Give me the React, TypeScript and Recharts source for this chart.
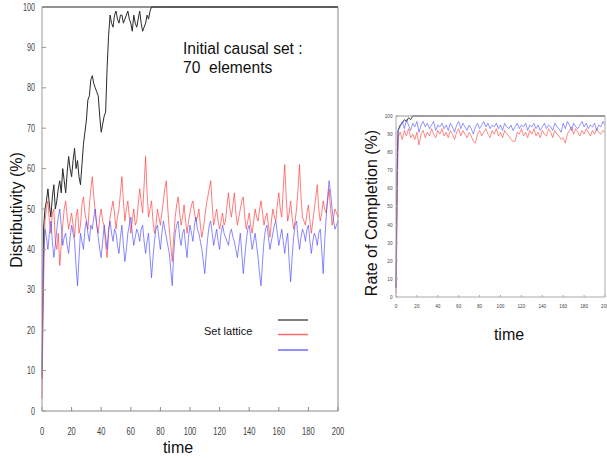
import React from "react";
import { LineChart, Line, XAxis, YAxis } from "recharts";

// left panel: one sample per time unit
const distTime = [
  0, 1, 2, 3, 4, 5, 6, 7, 8, 9, 10, 11, 12, 13, 14, 15, 16, 17, 18, 19,
  20, 21, 22, 23, 24, 25, 26, 27, 28, 29, 30, 31, 32, 33, 34, 35, 36, 37, 38, 39,
  40, 41, 42, 43, 44, 45, 46, 47, 48, 49, 50, 51, 52, 53, 54, 55, 56, 57, 58, 59,
  60, 61, 62, 63, 64, 65, 66, 67, 68, 69, 70, 71, 72, 73, 74, 75, 76, 77, 78, 79,
  80, 81, 82, 83, 84, 85, 86, 87, 88, 89, 90, 91, 92, 93, 94, 95, 96, 97, 98, 99,
  100, 101, 102, 103, 104, 105, 106, 107, 108, 109, 110, 111, 112, 113, 114, 115, 116, 117, 118, 119,
  120, 121, 122, 123, 124, 125, 126, 127, 128, 129, 130, 131, 132, 133, 134, 135, 136, 137, 138, 139,
  140, 141, 142, 143, 144, 145, 146, 147, 148, 149, 150, 151, 152, 153, 154, 155, 156, 157, 158, 159,
  160, 161, 162, 163, 164, 165, 166, 167, 168, 169, 170, 171, 172, 173, 174, 175, 176, 177, 178, 179,
  180, 181, 182, 183, 184, 185, 186, 187, 188, 189, 190, 191, 192, 193, 194, 195, 196, 197, 198, 199,
  200,
];

// right panel: coarser samples
const rateTime = [
  0, 1, 2, 4, 6, 8, 10, 12, 14, 16, 18, 20, 22, 24, 26, 28, 30, 32, 34, 36, 38, 40,
  42, 44, 46, 48, 50, 52, 54, 56, 58, 60, 62, 64, 66, 68, 70, 72, 74, 76, 78, 80,
  82, 84, 86, 88, 90, 92, 94, 96, 98, 100, 102, 104, 106, 108, 110, 112, 114, 116, 118, 120,
  122, 124, 126, 128, 130, 132, 134, 136, 138, 140, 142, 144, 146, 148, 150, 152, 154, 156, 158, 160,
  162, 164, 166, 168, 170, 172, 174, 176, 178, 180, 182, 184, 186, 188, 190, 192, 194, 196, 198, 200,
];

const xTicks = [0, 20, 40, 60, 80, 100, 120, 140, 160, 180, 200];
const yTicks = [0, 10, 20, 30, 40, 50, 60, 70, 80, 90, 100];

// Distributivity (%)
const distBlack = [
  8, 45, 50, 52, 55, 51, 48, 53, 56, 50,
  52, 55, 57, 54, 60, 57, 54, 59, 63, 60,
  58, 62, 65, 60, 62, 58, 56, 61, 66, 69,
  72, 77, 78, 82, 83, 81, 80, 79, 78, 73,
  69, 71, 73, 74, 85, 93, 98, 96, 95, 98,
  99, 97, 96, 98, 98, 96, 97, 98, 99, 97,
  96, 94, 98, 96, 95, 97, 99, 96, 94, 95,
  96, 98, 97, 99, 100, 100, 100, 100, 100, 100,
  100, 100, 100, 100, 100, 100, 100, 100, 100, 100,
  100, 100, 100, 100, 100, 100, 100, 100, 100, 100,
  100, 100, 100, 100, 100, 100, 100, 100, 100, 100,
  100, 100, 100, 100, 100, 100, 100, 100, 100, 100,
  100, 100, 100, 100, 100, 100, 100, 100, 100, 100,
  100, 100, 100, 100, 100, 100, 100, 100, 100, 100,
  100, 100, 100, 100, 100, 100, 100, 100, 100, 100,
  100, 100, 100, 100, 100, 100, 100, 100, 100, 100,
  100, 100, 100, 100, 100, 100, 100, 100, 100, 100,
  100, 100, 100, 100, 100, 100, 100, 100, 100, 100,
  100, 100, 100, 100, 100, 100, 100, 100, 100, 100,
  100, 100, 100, 100, 100, 100, 100, 100, 100, 100,
  100,
];
const distRed = [
  3, 30, 47, 50, 52, 47, 44, 49, 50, 42,
  40, 44, 36, 41, 46, 50, 52, 48, 45, 47,
  49, 46, 43, 48, 50, 44, 46, 51, 53, 49,
  47, 45, 51, 55, 58, 53, 49, 46, 44, 48,
  50, 47, 46, 41, 38, 44, 48, 50, 52, 49,
  45, 48, 50, 54, 58, 52, 47, 50, 52, 48,
  44, 47, 50, 46, 47, 51, 55, 52, 49, 56,
  63, 54, 48, 50, 52, 47, 44, 46, 50, 48,
  46, 49, 52, 55, 57, 50, 45, 41, 37, 43,
  48, 51, 53, 49, 46, 48, 51, 47, 44, 47,
  49, 51, 52, 49, 47, 48, 50, 46, 43, 45,
  48, 51, 53, 55, 57, 51, 46, 48, 50, 47,
  45, 47, 49, 46, 47, 51, 54, 50, 48, 51,
  54, 49, 46, 48, 50, 52, 53, 48, 45, 47,
  49, 46, 44, 47, 50, 48, 47, 50, 52, 49,
  46, 48, 49, 46, 43, 47, 50, 48, 47, 51,
  54, 50, 48, 55, 61, 53, 47, 49, 52, 48,
  45, 47, 50, 55, 61, 53, 48, 47, 46, 49,
  51, 47, 44, 47, 50, 53, 56, 50, 47, 49,
  52, 50, 49, 52, 55, 50, 46, 48, 50, 49,
  48,
];
const distBlue = [
  10, 38, 45, 43, 40, 44, 47, 42, 38, 41,
  45, 48, 50, 46, 41, 43, 44, 41, 39, 43,
  46, 44, 42, 36, 31, 38, 44, 42, 40, 45,
  47, 44, 42, 46, 45, 48, 50, 46, 43, 40,
  38, 42, 46, 43, 40, 45, 47, 44, 42, 45,
  44, 41, 39, 43, 46, 41, 37, 40, 44, 46,
  48, 44, 41, 43, 45, 44, 42, 45, 46, 42,
  39, 42, 44, 38, 33, 38, 42, 45, 46, 43,
  40, 44, 47, 45, 43, 41, 39, 35, 31, 39,
  44, 46, 47, 43, 41, 44, 45, 41, 38, 43,
  46, 44, 42, 46, 48, 45, 44, 42, 40, 37,
  34, 39, 43, 46, 47, 44, 41, 43, 45, 42,
  40, 44, 46, 44, 43, 42, 41, 44, 45, 43,
  42, 40, 38, 41, 44, 39, 34, 38, 42, 45,
  46, 43, 40, 42, 44, 41, 38, 34, 31, 37,
  42, 45, 46, 43, 40, 42, 44, 46, 47, 44,
  41, 43, 45, 42, 39, 42, 44, 37, 32, 38,
  43, 46, 47, 43, 40, 43, 45, 44, 42, 45,
  46, 42, 39, 42, 44, 43, 41, 44, 45, 40,
  34, 42, 48, 53, 57, 54, 50, 47, 45, 46,
  47,
];

// Rate of Completion (%)
const rateBlack = [
  5, 70, 92,
  95, 96, 98, 97, 99, 98, 100, 100, 100,
  100, 100, 100, 100, 100, 100, 100, 100, 100, 100,
  100, 100, 100, 100, 100, 100, 100, 100, 100, 100,
  100, 100, 100, 100, 100, 100, 100, 100, 100, 100,
  100, 100, 100, 100, 100, 100, 100, 100, 100, 100,
  100, 100, 100, 100, 100, 100, 100, 100, 100, 100,
  100, 100, 100, 100, 100, 100, 100, 100, 100, 100,
  100, 100, 100, 100, 100, 100, 100, 100, 100, 100,
  100, 100, 100, 100, 100, 100, 100, 100, 100, 100,
  100, 100, 100, 100, 100, 100, 100, 100, 100, 100,
];
const rateRed = [
  2, 40, 88,
  91, 87, 92, 89, 93, 88, 90, 87, 91,
  84, 90, 92, 88, 91, 89, 93, 90, 88, 92,
  90, 93, 89, 91, 88, 92, 90, 87, 91, 93,
  89, 92, 90, 88, 91, 89, 86, 85, 90, 92,
  89, 91, 93, 90, 88, 92, 90, 93, 89, 91,
  88, 92, 90, 89, 87, 86, 86, 91, 90, 93,
  89, 91, 88, 92, 90, 93, 89, 91, 88, 92,
  90, 89, 93, 91, 88, 92, 90, 89, 87, 88,
  85, 90, 92, 94, 90, 93, 91, 89, 92, 90,
  93, 91, 89, 92, 90, 93, 91, 90, 92, 91,
];
const rateBlue = [
  5, 60, 92,
  94, 97, 93, 98, 95, 92, 96, 94, 97,
  91, 95, 97, 94, 96, 93, 95, 97, 92, 95,
  94, 96, 93, 95, 92, 96, 94, 91, 95, 97,
  93, 96, 94, 92, 95, 93, 90, 94, 96, 93,
  95, 97, 94, 96, 93, 95, 94, 96, 93, 95,
  92, 96, 94, 93, 95, 92, 94, 96, 93, 95,
  94, 96, 92, 95, 94, 96, 93, 95, 92, 94,
  96, 93, 95, 94, 92, 96, 94, 93, 91, 96,
  93, 97, 95, 92, 96, 94, 93, 95, 97, 94,
  96, 93, 95, 94, 96, 92, 95, 94, 97, 95,
];

const COLORS = { black: "#2a2a2a", red: "#ff4545", blue: "#4a4aff" };

const distData = distTime.map((t, i) => ({
  t,
  black: distBlack[i],
  red: distRed[i],
  blue: distBlue[i],
}));
const rateData = rateTime.map((t, i) => ({
  t,
  black: rateBlack[i],
  red: rateRed[i],
  blue: rateBlue[i],
}));

const SANS = '"Liberation Sans", Arial, sans-serif';

// condensed tick label, like the old matlab-ish export
// eslint-disable-next-line @typescript-eslint/no-explicit-any
const NarrowTick = (props: any) => {
  const { x, y, payload, textAnchor, kind, size, sx } = props;
  return (
    <text
      transform={`translate(${x},${y}) scale(${sx},1)`}
      textAnchor={textAnchor}
      dy={kind === "x" ? "0.71em" : "0.355em"}
      fontSize={size}
      fontFamily={SANS}
      fill="#444"
    >
      {payload.value}
    </text>
  );
};

function lines(width: number) {
  return [
    <Line key="k" xAxisId="b" yAxisId="l" dataKey="black" stroke={COLORS.black} strokeWidth={width} dot={false} isAnimationActive={false} />,
    <Line key="r" xAxisId="b" yAxisId="l" dataKey="red" stroke={COLORS.red} strokeOpacity={0.7} strokeWidth={width} dot={false} isAnimationActive={false} />,
    <Line key="u" xAxisId="b" yAxisId="l" dataKey="blue" stroke={COLORS.blue} strokeOpacity={0.65} strokeWidth={width} dot={false} isAnimationActive={false} />,
  ];
}

export default function App() {
  return (
    <div
      style={{
        position: "absolute",
        left: 0,
        top: 0,
        width: 607,
        height: 458,
        background: "#fff",
        fontFamily: SANS,
        color: "#111",
      }}
    >
      {/* left panel */}
      <div style={{ position: "absolute", left: 0, top: 0 }}>
        <LineChart width={345} height={458} data={distData} margin={{ top: 6, right: 6, left: 0, bottom: 0 }}>
          <XAxis
            xAxisId="b"
            dataKey="t"
            type="number"
            domain={[0, 200]}
            ticks={xTicks}
            interval={0}
            height={47}
            tickSize={-4}
            tickMargin={21}
            stroke="#8a8a8a"
            tick={<NarrowTick kind="x" size={10.5} sx={0.72} />}
          />
          <XAxis xAxisId="top" orientation="top" type="number" domain={[0, 200]} ticks={xTicks} interval={0} height={1} tickSize={-4} tick={false} stroke="#222" />
          <YAxis
            yAxisId="l"
            type="number"
            domain={[0, 100]}
            ticks={yTicks}
            interval={0}
            width={42}
            tickSize={-4}
            tickMargin={11}
            stroke="#999"
            tick={<NarrowTick kind="y" size={10} sx={0.72} />}
          />
          <YAxis yAxisId="r" orientation="right" type="number" domain={[0, 100]} ticks={yTicks} interval={0} width={1} tickSize={-4} tick={false} stroke="#888" />
          {lines(1)}
        </LineChart>
      </div>

      {/* right panel */}
      <div style={{ position: "absolute", left: 360, top: 100 }}>
        <LineChart width={247} height={250} data={rateData} margin={{ top: 15, right: 1, left: 0, bottom: 0 }}>
          <XAxis
            xAxisId="b"
            dataKey="t"
            type="number"
            domain={[0, 200]}
            ticks={xTicks}
            interval={0}
            height={53}
            tickSize={-2}
            tickMargin={9}
            stroke="#aaa"
            tick={<NarrowTick kind="x" size={5.5} sx={0.85} />}
          />
          <XAxis xAxisId="top" orientation="top" type="number" domain={[0, 200]} ticks={xTicks} interval={0} height={1} tickSize={-2} tick={false} stroke="#999" />
          <YAxis
            yAxisId="l"
            type="number"
            domain={[0, 100]}
            ticks={yTicks}
            interval={0}
            width={36}
            tickSize={-2}
            tickMargin={5.5}
            stroke="#aaa"
            tick={<NarrowTick kind="y" size={5.5} sx={0.85} />}
          />
          <YAxis yAxisId="r" orientation="right" type="number" domain={[0, 100]} ticks={yTicks} interval={0} width={1} tickSize={-2} tick={false} stroke="#aaa" />
          {lines(0.9)}
        </LineChart>
      </div>

      {/* axis titles */}
      <div style={{ position: "absolute", left: 17, top: 210, fontSize: 16, lineHeight: "16px", whiteSpace: "nowrap", transform: "translate(-50%,-50%) rotate(-90deg)" }}>
        Distributivity (%)
      </div>
      <div style={{ position: "absolute", left: 178, top: 439.5, fontSize: 16, lineHeight: "16px", transform: "translateX(-50%)" }}>time</div>
      <div style={{ position: "absolute", left: 371.5, top: 213, fontSize: 16, lineHeight: "16px", whiteSpace: "nowrap", transform: "translate(-50%,-50%) rotate(-90deg)" }}>
        Rate of Completion (%)
      </div>
      <div style={{ position: "absolute", left: 509, top: 326.5, fontSize: 16, lineHeight: "16px", transform: "translateX(-50%)" }}>time</div>

      {/* annotation */}
      <div style={{ position: "absolute", left: 183, top: 40, fontSize: 15.6, lineHeight: "18.5px", whiteSpace: "pre" }}>
        {"Initial causal set :\n70  elements"}
      </div>

      {/* legend */}
      <div style={{ position: "absolute", left: 204, top: 325.7, fontSize: 11, lineHeight: "11px", whiteSpace: "nowrap" }}>Set lattice</div>
      <svg style={{ position: "absolute", left: 276, top: 312 }} width={36} height={44}>
        <line x1={2} x2={32} y1={8} y2={8} stroke={COLORS.black} strokeOpacity={0.8} strokeWidth={1.5} />
        <line x1={2} x2={32} y1={22.5} y2={22.5} stroke={COLORS.red} strokeOpacity={0.8} strokeWidth={1.5} />
        <line x1={2} x2={32} y1={38} y2={38} stroke={COLORS.blue} strokeOpacity={0.8} strokeWidth={1.5} />
      </svg>
    </div>
  );
}
